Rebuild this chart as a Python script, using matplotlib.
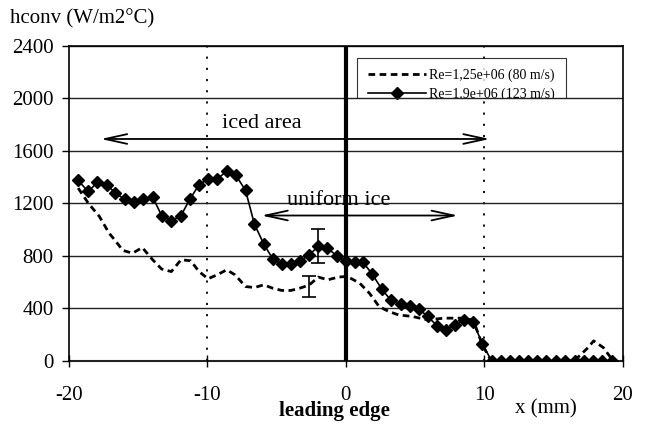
import matplotlib
matplotlib.use("Agg")
import matplotlib.pyplot as plt
from matplotlib.transforms import Bbox, TransformedBbox

plt.rcParams['font.family'] = ['Liberation Serif', 'DejaVu Serif']

# Re = 1.9e+06 (123 m/s) -- solid line with diamonds
x_hi = [-19.33, -18.61, -17.94, -17.25, -16.65, -15.98, -15.31, -14.62, -13.95, -13.27,
        -12.60, -11.91, -11.26, -10.60, -9.95, -9.28, -8.61, -7.96, -7.24, -6.60,
        -5.93, -5.28, -4.62, -3.97, -3.32, -2.65, -1.98, -1.33, -0.60, 0.00,
        0.64, 1.24, 1.91, 2.60, 3.27, 3.99, 4.66, 5.31, 5.91, 6.58,
        7.23, 7.88, 8.55, 9.22, 9.86, 10.53, 11.20, 11.85, 12.50, 13.17,
        13.82, 14.49, 15.20, 15.85, 16.52, 17.17, 17.84, 18.53, 19.20]
h_hi = [1374, 1290, 1359, 1341, 1278, 1232, 1209, 1234, 1247, 1100,
        1067, 1105, 1232, 1341, 1387, 1387, 1443, 1417, 1298, 1041,
        891, 777, 737, 737, 757, 808, 871, 859, 795, 757,
        752, 752, 660, 546, 460, 432, 414, 394, 338, 269,
        236, 274, 312, 292, 130, 0, 0, 0, 0, 0,
        0, 0, 0, 0, 0, 0, 0, 0, 0]

# Re = 1.25e+06 (80 m/s) -- dashed line
x_lo = [-19.33, -18.6, -17.8, -17.1, -16.7, -16.1, -15.4, -14.7, -13.95, -13.3,
        -12.6, -11.9, -11.2, -10.6, -9.95, -9.3, -8.6, -8.0, -7.24, -6.6,
        -5.93, -5.3, -4.62, -3.97, -3.3, -2.65, -1.98, -1.3, -0.55, 0.1,
        1.0, 1.7, 2.4, 3.1, 3.8, 4.8, 5.9, 7.1, 8.3, 9.2,
        9.86, 10.5, 11.5, 12.5, 13.5, 14.5, 15.5, 16.5, 17.5, 17.9,
        18.6, 19.2]
h_lo = [1316, 1201, 1100, 973, 922, 841, 820, 863, 770, 699,
        680, 770, 762, 680, 625, 655, 693, 655, 566, 558,
        579, 554, 536, 536, 554, 577, 638, 617, 638, 643,
        592, 516, 414, 376, 350, 338, 312, 325, 325, 312,
        122, 0, 0, 0, 0, 0, 0, 0, 101, 152,
        101, 15]

# error bars: x, centre, lower, upper
err_x = [-1.98, -2.65]
err_c = [871, 577]
err_lo = [744, 490]
err_hi = [1003, 650]

xticks = [-20, -10, 0, 10, 20]
yticks = [0, 400, 800, 1200, 1600, 2000, 2400]

fig = plt.figure(figsize=(6.5, 4.24), dpi=100)
ax = fig.add_axes([0.106, 0.149, 0.852, 0.743])

for y in yticks[1:]:
    ax.axhline(y, color='#222222', lw=1.0, zorder=1)
for xv in [-10, 10]:
    ax.axvline(xv, color='black', lw=1.3, ls=(0, (1.2, 5)), zorder=0.3)
ax.axvline(0, color='black', lw=3, zorder=2)

l1, = ax.plot(x_lo, h_lo, color='black', lw=2, ls=(0, (2.4, 1.6)), zorder=3,
              label='Re=1,25e+06 (80 m/s)')
l2, = ax.plot(x_hi, h_hi, color='black', lw=1.2, marker='D', ms=6.5, zorder=4,
              label='Re=1.9e+06 (123 m/s)')

for xe, c, lo, hi in zip(err_x, err_c, err_lo, err_hi):
    ax.errorbar([xe], [c], yerr=[[c - lo], [hi - c]], fmt='none', ecolor='black',
                elinewidth=1.2, capsize=5, capthick=1.2, zorder=5)

ax.annotate('', xy=(-17.9, 1690), xytext=(10.6, 1690),
            arrowprops=dict(arrowstyle='<->,head_length=1.6,head_width=0.35', lw=1.3, color='black'))
ax.text(-6.1, 1810, 'iced area', fontsize=16, ha='center', va='center')
ax.annotate('', xy=(-6.3, 1107), xytext=(8.3, 1107),
            arrowprops=dict(arrowstyle='<->,head_length=1.6,head_width=0.35', lw=1.3, color='black'))
ax.text(-0.5, 1225, 'uniform ice', fontsize=16, ha='center', va='center')

ax.set_xlim(-20, 20)
ax.set_ylim(0, 2400)
ax.set_xticks(xticks)
ax.set_yticks(yticks)
ax.set_xticklabels([str(t) for t in xticks], fontsize=15)
ax.set_yticklabels([str(t) for t in yticks], fontsize=15)
ax.tick_params(axis='x', direction='inout', length=8, width=1, pad=14)
ax.tick_params(axis='y', direction='out', length=5, width=1, pad=6)
for s in ax.spines.values():
    s.set_linewidth(1.2)
ax.spines['bottom'].set_visible(False)
ax.axhline(0, color='#222222', lw=1.5, zorder=1, clip_on=False)

leg = ax.legend(handles=[l1, l2], loc='upper left', bbox_to_anchor=(0.52, 0.962),
                frameon=True, fancybox=False, edgecolor='black', fontsize=10,
                handlelength=4.2, handletextpad=0.2, borderpad=0.8, labelspacing=0.35,
                borderaxespad=0)
leg.get_frame().set_linewidth(0.8)
leg.set_zorder(0.5)
clipbox = TransformedBbox(Bbox([[-20, 1998], [20, 2400]]), ax.transData)
for art in [leg.legendPatch] + leg.get_texts() + list(leg.legend_handles):
    art.set_clip_box(clipbox)
    art.set_clip_on(True)

fig.text(0.015, 0.955, 'hconv (W/m2°C)', fontsize=15, ha='left', va='center')
fig.text(0.514, 0.030, 'leading edge', fontsize=15, fontweight='bold', ha='center', va='center')
fig.text(0.84, 0.035, 'x (mm)', fontsize=15, ha='center', va='center')

fig.savefig('out.png', dpi=100)
